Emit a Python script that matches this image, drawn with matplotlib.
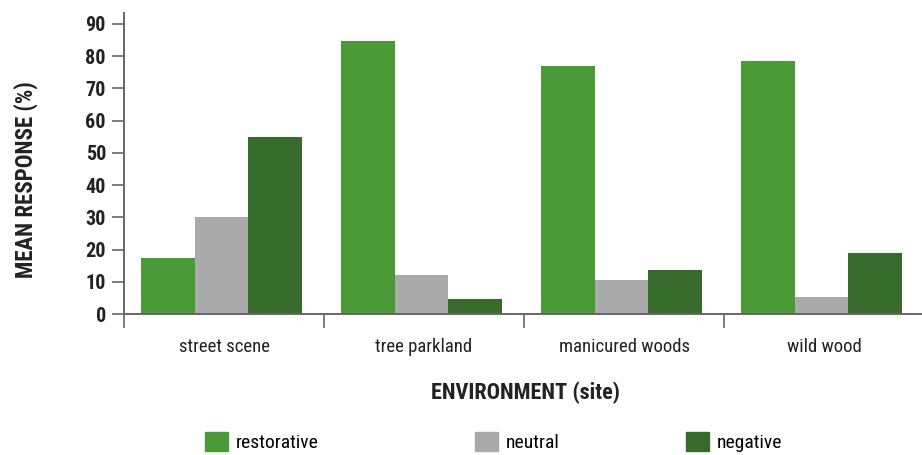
import numpy as np
import matplotlib.pyplot as plt
from matplotlib.patches import Patch

plt.rcParams['font.family'] = ['Roboto Condensed', 'Roboto', 'DejaVu Sans']

sites = ['street scene', 'tree parkland', 'manicured woods', 'wild wood']
restorative = [17.3, 84.8, 76.8, 78.5]
neutral = [30.2, 12.0, 10.6, 5.3]
negative = [54.8, 4.8, 13.5, 18.9]
series_names = ['restorative', 'neutral', 'negative']
colors = ['#4a9a37', '#aaaaaa', '#376b2b']
yticks = [0, 10, 20, 30, 40, 50, 60, 70, 80, 90]

fig = plt.figure(figsize=(9.22, 4.55), dpi=100)
ax = fig.add_axes([124 / 922, 141 / 455, 800 / 922, 301 / 455])

x = np.arange(len(sites)) + 0.5
w = 0.268
for i, (vals, c) in enumerate(zip([restorative, neutral, negative], colors)):
    ax.bar(x + (i - 1) * w - 0.012, vals, w, color=c, linewidth=0, zorder=2)

ax.set_xlim(0, 4)
ax.set_ylim(0, 93.4)
ax.set_yticks(yticks)
ax.set_yticklabels([str(t) for t in yticks], fontsize=14.5, fontweight='bold', color='#222222')
ax.set_xticks([0, 1, 2, 3, 4])
ax.set_xticklabels([])
ax.set_xticks(x, minor=True)
ax.set_xticklabels(sites, minor=True, fontsize=13.5, color='#222222')
ax.tick_params(axis='x', which='minor', length=0, pad=17)
ax.tick_params(axis='x', which='major', length=10, width=1.2, color='#666666')
ax.tick_params(axis='y', length=9, width=1.2, color='#666666', pad=4)

for s in ['top', 'right']:
    ax.spines[s].set_visible(False)
for s in ['left', 'bottom']:
    ax.spines[s].set_color('#666666')
    ax.spines[s].set_linewidth(1.4)

ax.set_ylabel('MEAN RESPONSE (%)', fontsize=16.5, fontweight='bold', color='#222222')
ax.yaxis.set_label_coords(-0.1075, 0.445)
fig.text(525 / 922, 62 / 455, 'ENVIRONMENT (site)', ha='center', va='center',
         fontsize=16, fontweight='bold', color='#222222')

legend_x = [205, 475, 686]
for name, c, lx in zip(series_names, colors, legend_x):
    fig.legend(handles=[Patch(color=c, label=name)], loc='center left',
               bbox_to_anchor=(lx / 922, 13 / 455), frameon=False, fontsize=14,
               handlelength=1.18, handleheight=1.1, handletextpad=0.4,
               borderaxespad=0, borderpad=0)

fig.savefig('out.png', dpi=100)
